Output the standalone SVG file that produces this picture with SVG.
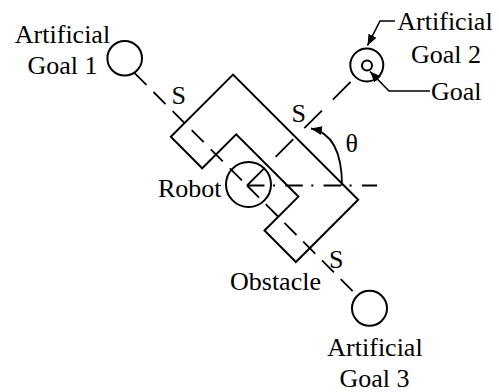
<svg xmlns="http://www.w3.org/2000/svg" width="499" height="392" viewBox="0 0 499 392">
  <style>
    .shape { fill: none; stroke: #000; stroke-width: 2; }
    .line { fill: none; stroke: #000; stroke-width: 1.8; }
    .ptr { fill: none; stroke: #000; stroke-width: 1.6; }
    text { font-family: "Liberation Serif", "Times New Roman", serif; font-size: 26px; fill: #000; }
  </style>
  <defs>
    <marker id="arrow" markerUnits="userSpaceOnUse" markerWidth="12" markerHeight="10" refX="11" refY="4.5" orient="auto">
      <path d="M0,0 L11,4.5 L0,9 z" fill="#000"/>
    </marker>
  </defs>

  <!-- obstacle: U-shaped block rotated 45 degrees -->
  <g id="obstacle">
    <polygon class="shape" points="233,74.6 170.8,136.8 202.2,168.3 236.2,134.4 298.4,196.6 264.5,230.5 295.9,262 358.2,199.8"/>
    <text x="230" y="290">Obstacle</text>
  </g>

  <!-- robot -->
  <g id="robot">
    <circle class="shape" cx="248.5" cy="184.5" r="22.5"/>
    <text x="158" y="196.5">Robot</text>
  </g>

  <!-- artificial goals and the real goal -->
  <g id="goal1">
    <circle class="shape" cx="124.7" cy="58.3" r="17.3"/>
    <text x="62.5" y="43" text-anchor="middle">Artificial</text>
    <text x="62.5" y="73.5" text-anchor="middle">Goal 1</text>
  </g>
  <g id="goal2">
    <circle class="shape" cx="366.8" cy="65" r="16.5"/>
    <circle class="shape" cx="367" cy="65.5" r="5"/>
    <text x="445" y="30" text-anchor="middle">Artificial</text>
    <text x="446" y="62.7" text-anchor="middle">Goal 2</text>
    <text x="431" y="100">Goal</text>
  </g>
  <g id="goal3">
    <circle class="shape" cx="369.5" cy="308.3" r="17.5"/>
    <text x="375" y="356" text-anchor="middle">Artificial</text>
    <text x="374.5" y="387" text-anchor="middle">Goal 3</text>
  </g>

  <!-- connectors: goal directions, heading reference and label pointers -->
  <g id="connectors">
    <path class="line" d="M134.4,72.9 L247,185.5" stroke-dasharray="17 10"/>
    <path class="line" d="M247,185.5 L357.3,295.8" stroke-dasharray="17 9.5"/>
    <path class="line" d="M247,185.5 L355.5,77" stroke-dasharray="25 15.5"/>
    <path class="line" d="M247,185.5 L377,185.5" stroke-dasharray="17.5 8.5 2 10.3"/>
    <path class="line" d="M342,185.5 C342,155 334,133 311,128.5" marker-end="url(#arrow)"/>
    <path class="ptr" d="M395,21 L380,21 L367.5,45.5" marker-end="url(#arrow)"/>
    <path class="ptr" d="M430,91 L389,91 L370,71.5" marker-end="url(#arrow)"/>
  </g>

  <!-- distance and angle labels -->
  <g id="labels">
    <text x="171.5" y="104">S</text>
    <text x="291.5" y="121.7">S</text>
    <text x="329" y="268">S</text>
    <text x="345.5" y="151.7">θ</text>
  </g>
</svg>
